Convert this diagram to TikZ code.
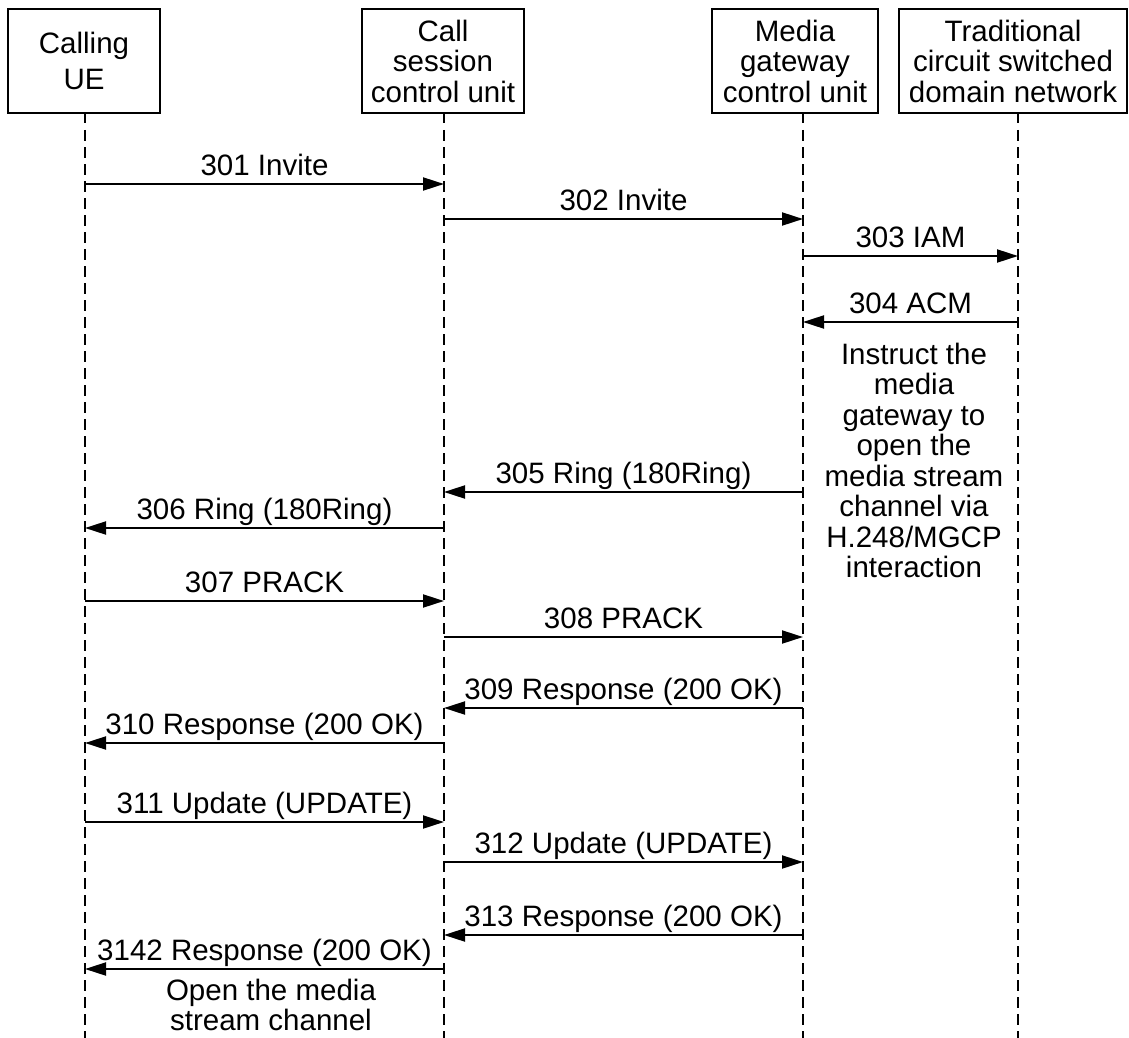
\documentclass[tikz,border=0pt]{standalone}
\usepackage{fontspec}
\setmainfont{Liberation Sans}
\usetikzlibrary{arrows.meta}

\begin{document}
\begin{tikzpicture}[x=1pt, y=-1pt, line width=2pt,
  every node/.style={font=\fontsize{29.5}{30.5}\selectfont, inner sep=0pt},
  unit/.style={draw, align=center, minimum height=104pt},
  life/.style={dash pattern=on 10.5pt off 6.5pt, line width=2.2pt},
  msg/.style={-{Triangle[length=21pt, width=13pt]}},
  lbl/.style={anchor=base, yshift=9pt},
  note/.style={align=center, anchor=north}]
  \useasboundingbox (0,0) rectangle (1129,1038);

  % entities
  \node[unit, minimum width=152pt] (ue) at (84,61) {Calling\\[5pt]UE};
  \node[unit, minimum width=162pt] (cscu) at (443,61) {Call\\session\\control unit};
  \node[unit, minimum width=166pt] (mgcu) at (795,61) {Media\\gateway\\control unit};
  \node[unit, minimum width=228pt] (csn) at (1013,61) {Traditional\\circuit switched\\domain network};

  % lifelines
  \coordinate (lue) at (85,113);
  \coordinate (lcs) at (444,113);
  \coordinate (lmg) at (803,113);
  \coordinate (lne) at (1018,113);
  \draw[life] (lue) -- (lue |- 0,1038);
  \draw[life] (lcs) -- (lcs |- 0,1038);
  \draw[life] (lmg) -- (lmg |- 0,1038);
  \draw[life] (lne) -- (lne |- 0,1038);

  % call setup
  \draw[msg] (lue |- 0,184) -- (lcs |- 0,184) node[midway, lbl] (m301) {301 Invite};
  \draw[msg] (lcs |- 0,219) -- (lmg |- 0,219) node[midway, lbl] (m302) {302 Invite};
  \draw[msg] (lmg |- 0,256) -- (lne |- 0,256) node[midway, lbl] (m303) {303 IAM};
  \draw[msg] (lne |- 0,322) -- (lmg |- 0,322) node[midway, lbl] (m304) {304 ACM};
  \node[note] (instr) at (914,342) {Instruct the\\media\\gateway to\\open the\\media stream\\channel via\\H.248/MGCP\\interaction};

  % ringing
  \draw[msg] (lmg |- 0,492) -- (lcs |- 0,492) node[midway, lbl] (m305) {305 Ring (180Ring)};
  \draw[msg] (lcs |- 0,528) -- (lue |- 0,528) node[midway, lbl] (m306) {306 Ring (180Ring)};
  \draw[msg] (lue |- 0,601) -- (lcs |- 0,601) node[midway, lbl] (m307) {307 PRACK};
  \draw[msg] (lcs |- 0,637) -- (lmg |- 0,637) node[midway, lbl] (m308) {308 PRACK};
  \draw[msg] (lmg |- 0,708) -- (lcs |- 0,708) node[midway, lbl] (m309) {309 Response (200 OK)};
  \draw[msg] (lcs |- 0,743) -- (lue |- 0,743) node[midway, lbl] (m310) {310 Response (200 OK)};

  % update
  \draw[msg] (lue |- 0,822) -- (lcs |- 0,822) node[midway, lbl] (m311) {311 Update (UPDATE)};
  \draw[msg] (lcs |- 0,862) -- (lmg |- 0,862) node[midway, lbl] (m312) {312 Update (UPDATE)};
  \draw[msg] (lmg |- 0,935) -- (lcs |- 0,935) node[midway, lbl] (m313) {313 Response (200 OK)};
  \draw[msg] (lcs |- 0,969) -- (lue |- 0,969) node[midway, lbl] (m314) {3142 Response (200 OK)};
  \node[note] (open) at (271,978) {Open the media\\stream channel};
\end{tikzpicture}
\end{document}
